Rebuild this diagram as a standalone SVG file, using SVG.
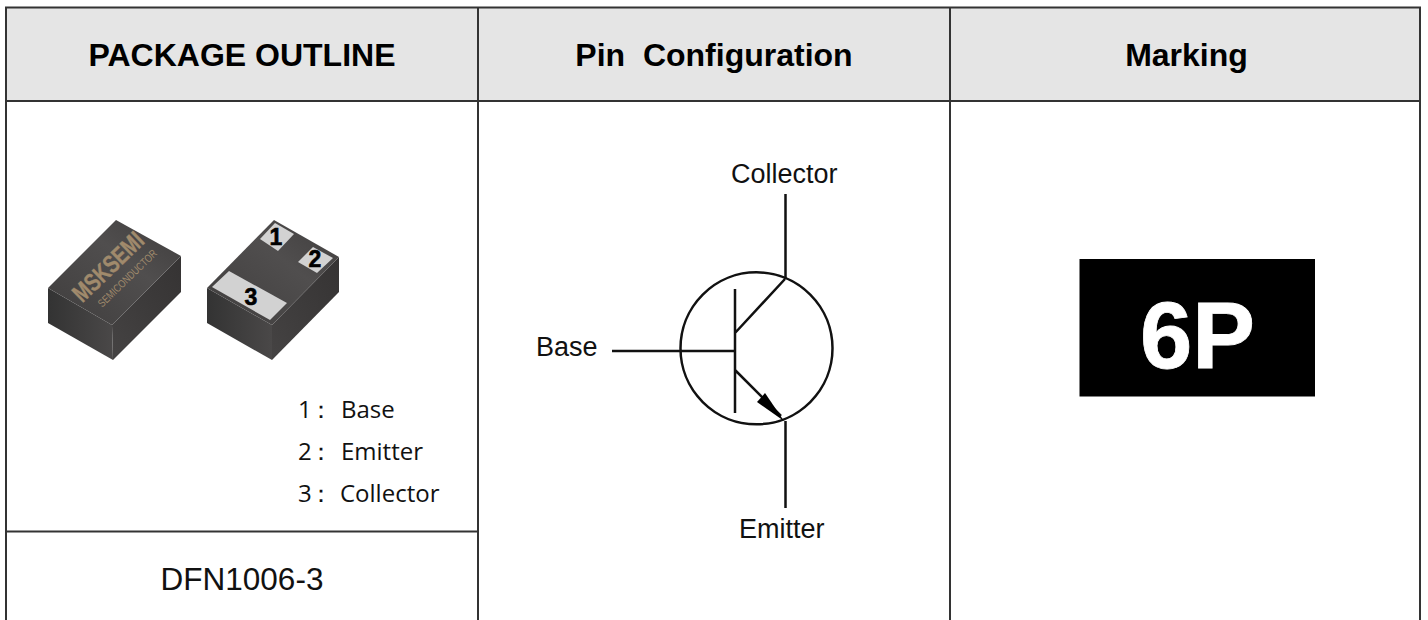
<svg xmlns="http://www.w3.org/2000/svg" width="1428" height="620" viewBox="0 0 1428 620">
<style>
.h{font:bold 32px "Liberation Sans",Arial,sans-serif;fill:#000;text-anchor:middle}
.t{stroke:#333;stroke-width:2;fill:none}
.l{font:27px "Liberation Sans",Arial,sans-serif;fill:#111}
.k{font:24px "Open Sans",sans-serif;fill:#111}
.s{stroke:#111;stroke-width:2.500;fill:none}
.n{font:900 23px "Liberation Sans",Arial,sans-serif;fill:#000;text-anchor:middle;stroke:#000;stroke-width:.6}
</style>
<defs>
<linearGradient id="a" x1="0" x2="1" y1="0" y2="0"><stop offset="0" stop-color="#333"/><stop offset="1" stop-color="#4a4848"/></linearGradient>
<linearGradient id="b" x1="0" x2="1" y1="1" y2="0"><stop offset="0" stop-color="#454343"/><stop offset="1" stop-color="#353333"/></linearGradient>
<linearGradient id="c" x1="0" x2="1" y1="1" y2="0"><stop offset="0" stop-color="#3f3d3d"/><stop offset=".6" stop-color="#504e4e"/><stop offset="1" stop-color="#3f3d3d"/></linearGradient>
</defs>
<rect width="1428" height="620" fill="#fff"/>
<g id="table">
<rect x="6" y="7.500" width="1414" height="93.500" fill="#e5e5e5"/>
<path class="t" d="M6 620V7.500H1420V620M478 7.500V620M950 7.500V620M6 101H1420M6 531.500H478"/>
</g>
<g id="header-package"><text class="h" x="242" y="66">PACKAGE OUTLINE</text></g>
<g id="header-pin"><text class="h" x="714" y="66" xml:space="preserve">Pin  Configuration</text></g>
<g id="header-marking"><text class="h" x="1186.500" y="66">Marking</text></g>
<g id="chip-top">
<polygon points="48,288 112,325 113,360 48,323" fill="url(#a)"/>
<polygon points="112,325 181,256 181,292 113,360" fill="url(#b)"/>
<polygon points="116,220 181,256 112,325 48,288" fill="url(#c)"/>
<text transform="translate(114,273) rotate(-44)" text-anchor="middle" font-family="Liberation Sans,sans-serif" font-weight="bold" font-size="25" fill="#a08a6c" stroke="#a08a6c" stroke-width=".4" textLength="88" lengthAdjust="spacingAndGlyphs">MSKSEMI</text>
<text transform="translate(130,281) rotate(-44)" text-anchor="middle" font-family="Liberation Sans,sans-serif" font-size="11" fill="#a08a6c" textLength="77" lengthAdjust="spacingAndGlyphs">SEMICONDUCTOR</text>
</g>
<g id="chip-bottom">
<polygon points="207,288 272,325 272,360 207,323" fill="url(#a)"/>
<polygon points="272,325 339,257 339,292 272,360" fill="url(#b)"/>
<polygon points="274,220 339,257 272,325 207,288" fill="url(#c)"/>
<polygon points="260,239 278,251 294,234 275,223" fill="#d2d2d2"/>
<polygon points="298,262 317,273 333,258 313,247" fill="#d2d2d2"/>
<polygon points="229,271 287,303 270,320 212,287" fill="#d2d2d2"/>
<text class="n" x="276" y="245">1</text>
<text class="n" x="315" y="267">2</text>
<text class="n" x="251" y="305">3</text>
</g>
<g id="pin-list">
<text class="k" x="298" y="418" letter-spacing="-3">1：</text><text class="k" x="341" y="418">Base</text>
<text class="k" x="298" y="460" letter-spacing="-3">2：</text><text class="k" x="341" y="460">Emitter</text>
<text class="k" x="298" y="502" letter-spacing="-3">3：</text><text class="k" x="340" y="502">Collector</text>
</g>
<g id="package-name"><text x="242" y="590" text-anchor="middle" font-family="Liberation Sans,sans-serif" font-size="31.500" fill="#111">DFN1006-3</text></g>
<g id="transistor">
<circle cx="756.500" cy="348.300" r="76" class="s"/>
<path class="s" d="M735 289V413M680 351H735M735 333L785 279M735 370L781 416"/>
<polygon points="757,402 765,393 784,421" fill="#000"/>
</g>
<g id="connectors">
<path class="s" d="M785.500 194V279M785.500 421V508M612 351H680"/>
</g>
<g id="pin-labels">
<text class="l" x="731" y="183">Collector</text>
<text class="l" x="536" y="356">Base</text>
<text class="l" x="739" y="538">Emitter</text>
</g>
<g id="marking">
<rect x="1079.500" y="259" width="235.500" height="137.500" fill="#000"/>
<text x="1197.500" y="368" text-anchor="middle" font-family="Liberation Sans,sans-serif" font-weight="bold" font-size="94" fill="#fff" stroke="#fff" stroke-width=".8">6P</text>
</g>
</svg>
